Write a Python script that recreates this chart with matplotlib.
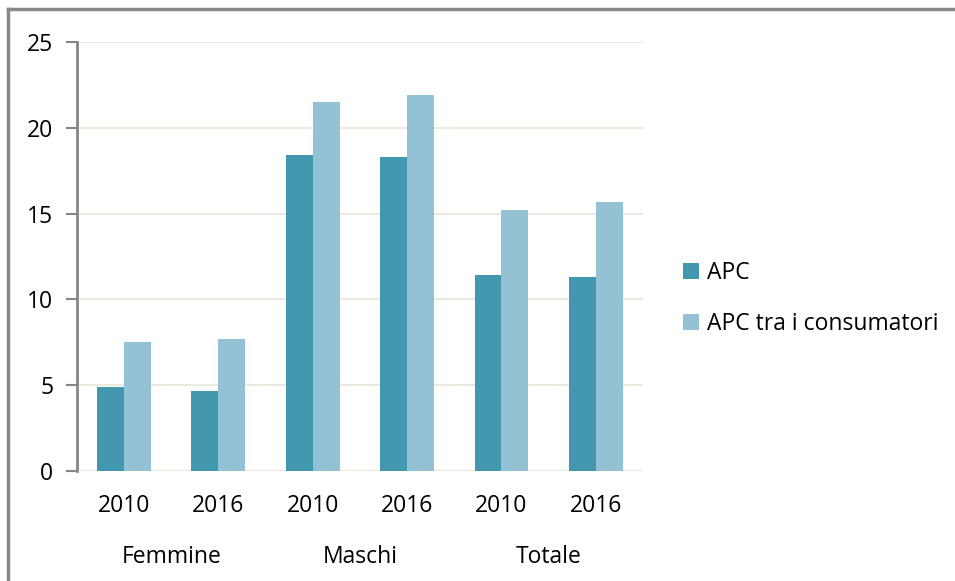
import numpy as np
import matplotlib
matplotlib.use("Agg")
import matplotlib.pyplot as plt
from matplotlib.lines import Line2D

# values
years = ["2010", "2016", "2010", "2016", "2010", "2016"]
groups = ["Femmine", "Maschi", "Totale"]
apc = [4.9, 4.7, 18.4, 18.3, 11.4, 11.3]
apc_consumatori = [7.5, 7.7, 21.5, 21.9, 15.2, 15.7]

plt.rcParams['font.family'] = ['Open Sans', 'DejaVu Sans']

fig = plt.figure(figsize=(9.55, 5.81), dpi=100)
ax = fig.add_axes([0.0806, 0.1888, 0.5927, 0.7394])

x = np.arange(len(years))
w = 0.286
ax.bar(x - w / 2, apc, width=w, color='#4398B0', label='APC', zorder=3)
ax.bar(x + w / 2, apc_consumatori, width=w, color='#93C2D4',
       label='APC tra i consumatori', zorder=3)

ax.set_xlim(-0.5, len(years) - 0.5)
ax.set_ylim(0, 25)
ax.set_yticks([0, 5, 10, 15, 20, 25])
ax.yaxis.grid(True, color='#EAEAE0', linewidth=1.5, zorder=0)
ax.set_xticks(x)
ax.set_xticklabels(years)
ax.tick_params(axis='x', length=0, pad=16, labelsize=16.5)
ax.tick_params(axis='y', length=8, width=1.5, color='#868686', pad=9, labelsize=16.5)

for side in ['top', 'right', 'bottom']:
    ax.spines[side].set_visible(False)
ax.spines['left'].set_color('#868686')
ax.spines['left'].set_linewidth(2)

# group labels under each pair of years
for i, g in enumerate(groups):
    ax.text(2 * i + 0.5, -0.2, g, transform=ax.get_xaxis_transform(),
            ha='center', va='center', fontsize=16.5)

ax.legend(loc='center left', bbox_to_anchor=(1.035, 0.402), frameon=False,
          fontsize=16.5, handlelength=0.7, handleheight=0.7,
          handletextpad=0.35, labelspacing=1.2)

# outer frame: only left and top edges visible
fig.add_artist(Line2D([0.0089, 0.0089], [0, 0.9845], color='#888888',
                      linewidth=2.5, transform=fig.transFigure))
fig.add_artist(Line2D([0.0089, 1.0], [0.9845, 0.9845], color='#888888',
                      linewidth=2.5, transform=fig.transFigure))

fig.savefig('out.png', dpi=100)
